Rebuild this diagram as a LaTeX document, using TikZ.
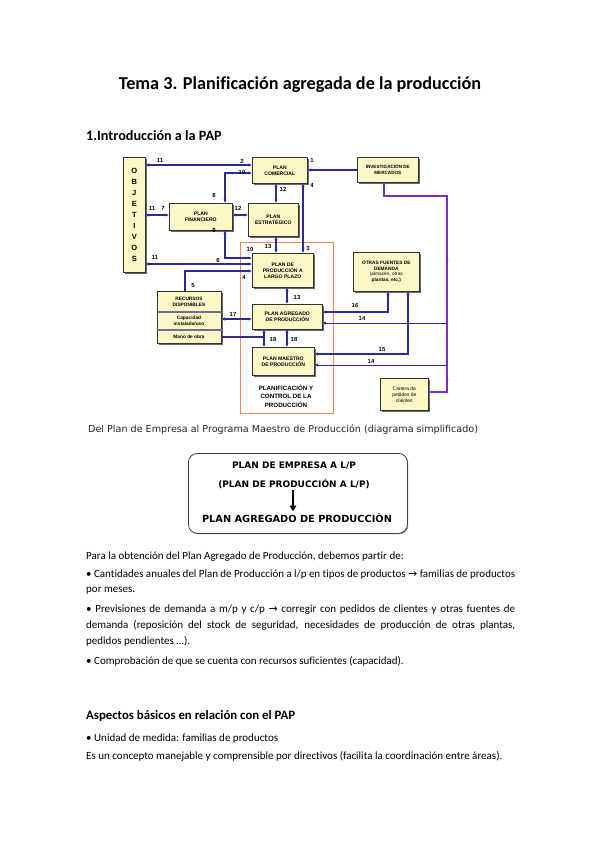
\documentclass[tikz,border=0pt]{standalone}
\usepackage{fontspec}
\setmainfont{Carlito}[Ligatures=CommonOff]
\newfontfamily\arialf{Liberation Sans}
\newfontfamily\tahomaf{DejaVu Sans}
\usetikzlibrary{arrows.meta,shadows}
\definecolor{navy}{HTML}{2A2A9C}
\definecolor{purpc}{HTML}{7B2FC0}
\definecolor{boxfill}{HTML}{FBF7C6}
\definecolor{orng}{HTML}{F0884E}
\definecolor{rowc}{HTML}{6E6E90}
\newcommand\rarr{{\tahomaf →}}
\tikzset{
  box/.style={draw=black!80, fill=boxfill, line width=0.6pt, inner sep=0pt, anchor=north west, align=center,
    font=\arialf\bfseries\fontsize{5.1}{6}\selectfont,
    drop shadow={shadow xshift=1.2pt, shadow yshift=-1.2pt, fill=black!60, opacity=1}},
  arr/.style={draw=navy, line width=1.3pt},
  thinarr/.style={draw=navy, line width=1pt},
  purp/.style={draw=purpc, line width=1.4pt},
  lbl/.style={font=\arialf\bfseries\fontsize{5.9}{6}\selectfont, inner sep=0pt},
  rowline/.style={draw=rowc, line width=1.2pt},
  body/.style={anchor=base west, inner sep=0pt, font=\fontsize{11}{13}\selectfont},
  etext/.style={anchor=base, inner sep=0pt, font=\tahomaf\bfseries\fontsize{9}{10}\selectfont}
}
\begin{document}
\begin{tikzpicture}[x=1pt,y=-1pt,>={Latex[length=3.4pt,width=3.4pt]}]
\useasboundingbox (0,0) rectangle (599,848);
\fill[white] (0,0) rectangle (599,848);

% headings
\node[anchor=base, inner sep=0pt, font=\bfseries\fontsize{18.2}{20}\selectfont] (title) at (300,89.5) {Tema 3. Planificación agregada de la producción};
\node[anchor=base west, inner sep=0pt, font=\bfseries\fontsize{14.2}{16}\selectfont] (sec1) at (86,140) {1.Introducción a la PAP};

% orange frame
\node[draw=orng, line width=1.1pt, minimum width=93pt, minimum height=171pt, anchor=north west, inner sep=0pt] (pcp) at (240,242) {};
\node[align=center, inner sep=0pt, font=\arialf\bfseries\fontsize{6.2}{8.3}\selectfont] (pcpt) at (286,396) {PLANIFICACIÓN Y\\CONTROL DE LA\\PRODUCCIÓN};

% boxes
\node[box, minimum width=22pt, minimum height=115pt, font=\arialf\bfseries\fontsize{7.5}{11}\selectfont] (obj) at (123,157) {O\\B\\J\\E\\T\\I\\V\\O\\S};
\node[box, minimum width=55pt, minimum height=26pt] (pc) at (252,157) {PLAN\\COMERCIAL};
\node[box, minimum width=61pt, minimum height=25pt, font=\arialf\bfseries\fontsize{4.6}{5.8}\selectfont] (im) at (357,157) {INVESTIGACIÓN DE\\MERCADOS};
\node[box, minimum width=63pt, minimum height=27pt] (pf) at (169,203) {PLAN\\FINANCIERO};
\node[box, minimum width=50pt, minimum height=33pt] (pe) at (248,203) {PLAN\\ESTRATEGICO};
\node[box, minimum width=61pt, minimum height=34pt] (plp) at (252,253) {PLAN DE\\PRODUCCIÓN A\\LARGO PLAZO};
\node[box, minimum width=70pt, minimum height=25pt] (pap) at (252,304) {PLAN AGREGADO\\DE PRODUCCIÓN};
\node[box, minimum width=62pt, minimum height=28pt] (pmp) at (252,347) {PLAN MAESTRO\\DE PRODUCCIÓN};
\node[box, minimum width=64pt, minimum height=52pt] (rd) at (157,291) {};
\draw[rowline] (rd.west |- 0,312) -- (rd.east |- 0,312);
\draw[rowline] (rd.west |- 0,330) -- (rd.east |- 0,330);
\node[align=center, inner sep=0pt, font=\arialf\bfseries\fontsize{4.8}{5.8}\selectfont] (rd1) at (189,301.5) {RECURSOS\\DISPONIBLES};
\node[align=center, inner sep=0pt, font=\arialf\bfseries\fontsize{4.8}{5.8}\selectfont] (rd2) at (189,321) {Capacidad\\instalada/uso};
\node[align=center, inner sep=0pt, font=\arialf\bfseries\fontsize{4.8}{5.8}\selectfont] (rd3) at (189,336.5) {Mano de obra};
\node[box, minimum width=66pt, minimum height=39pt, font=\arialf\bfseries\fontsize{4.8}{5.8}\selectfont] (ofd) at (353,252) {OTRAS FUENTES DE\\DEMANDA\\\mdseries(almacén, otras\\plantas, etc.)};
\node[box, minimum width=48pt, minimum height=32pt, font=\arialf\fontsize{4.9}{6}\selectfont] (cp) at (380,378) {Cartera de\\pedidos de\\clientes};

% purple flow
\coordinate (pu1) at (447,196);
\coordinate (pu2) at (447,392);
\coordinate (pm1) at (447,263);
\coordinate (pm2) at (447,376);
\draw[purp] (im.south -| 384,0) |- (pu1) -- (pu2) -- (cp.east |- pu2);
\draw[purp,->] (pu1) -- (pm1);
\draw[purp,->] (pu2) -- (pm2);

% connectors
\draw[arr,->] (im.west |- 0,170) -- (pc.east |- 0,170);
\draw[arr,<->] (obj.east |- 0,165) -- (pc.west |- 0,165);
\coordinate (c10) at (225,173);
\draw[arr,<->] (pc.west |- c10) -- (c10) -- (pf.north -| c10);
\draw[arr,<->] (pc.south -| 276,0) -- (pe.north -| 276,0);
\draw[arr,<->] (pc.south -| 303,0) -- (plp.north -| 303,0);
\draw[arr,<->] (obj.east |- 0,215) -- (pf.west |- 0,215);
\draw[arr,<->] (pf.east |- 0,215) -- (pe.west |- 0,215);
\coordinate (c9) at (225,258);
\draw[arr,<->] (pf.south -| c9) -- (c9) -- (plp.west |- c9);
\draw[arr,<->] (obj.east |- 0,264) -- (plp.west |- 0,264);
\coordinate (c5) at (185,271);
\draw[arr,->] (rd.north -| c5) -- (c5) -- (plp.west |- c5);
\draw[arr,<->] (pe.south -| 276,0) -- (plp.north -| 276,0);
\draw[arr,<->] (plp.south -| 287,0) -- (pap.north -| 287,0);
\draw[arr,<->] (rd.east |- 0,319) -- (pap.west |- 0,319);
\coordinate (c18) at (264,337);
\draw[arr] (rd.east |- c18) -- (c18);
\draw[arr,<->] (pap.south -| c18) -- (pmp.north -| c18);
\draw[arr,<->] (pap.south -| 287,0) -- (pmp.north -| 287,0);
\coordinate (c16) at (388,312);
\draw[arr,<->] (pap.east |- c16) -- (c16) -- (ofd.south -| c16);
\coordinate (c14a) at (447,323);
\draw[thinarr,->] (c14a) -- (pap.east |- c14a);
\coordinate (c15) at (408,354);
\draw[arr,<->] (pmp.east |- c15) -- (c15) -- (ofd.south -| c15);
\coordinate (c14b) at (447,365);
\draw[thinarr,->] (c14b) -- (pmp.east |- c14b);

% labels
\node[lbl] (l1) at (312,160) {1};
\node[lbl] (l11a) at (160,160) {11};
\node[lbl] (l2) at (242,161) {2};
\node[lbl] (l10a) at (242,172) {10};
\node[lbl] (l8) at (214,195) {8};
\node[lbl] (l12a) at (283,189) {12};
\node[lbl] (l4a) at (312,185) {4};
\node[lbl] (l3) at (308,248) {3};
\node[lbl] (l11b) at (152,208) {11};
\node[lbl] (l7) at (163,208) {7};
\node[lbl] (l12b) at (238,208) {12};
\node[lbl] (l9) at (214,230) {9};
\node[lbl] (l10b) at (250,249) {10};
\node[lbl] (l11c) at (155,257) {11};
\node[lbl] (l6) at (218,260) {6};
\node[lbl] (l5) at (193,285) {5};
\node[lbl] (l4b) at (244,277) {4};
\node[lbl] (l13a) at (268,246) {13};
\node[lbl] (l13b) at (297,297) {13};
\node[lbl] (l17) at (233,314) {17};
\node[lbl] (l18a) at (273,339) {18};
\node[lbl] (l18b) at (294,339) {18};
\node[lbl] (l16) at (355,305) {16};
\node[lbl] (l14a) at (362,318) {14};
\node[lbl] (l15) at (382,349) {15};
\node[lbl] (l14b) at (371,361) {14};

% caption and simplified diagram
\node[anchor=base west, inner sep=0pt, text=black!85, font=\tahomaf\fontsize{9.6}{11}\selectfont] (cap) at (88,432) {Del Plan de Empresa al Programa Maestro de Producción (diagrama simplificado)};
\node[draw=black!75, line width=0.8pt, rounded corners=9pt, minimum width=219pt, minimum height=80pt, anchor=north west, inner sep=0pt,
  drop shadow={shadow xshift=0.8pt, shadow yshift=-0.8pt, fill=black!45, opacity=1}, fill=white] (emp) at (188,453) {};
\node[etext] (e1) at (294,468.5) {PLAN DE EMPRESA A L/P};
\node[etext] (e2) at (294,487.5) {(PLAN DE PRODUCCIÓN A L/P)};
\node[etext, font=\tahomaf\bfseries\fontsize{9.8}{11}\selectfont] (e3) at (297,522.5) {PLAN AGREGADO DE PRODUCCIÒN};
\draw[line width=1.8pt, -{Triangle[length=5.5pt,width=6.5pt]}, shorten <=1pt, shorten >=2pt] (e2.south -| 293,0) -- (e3.north -| 293,0);

% body text
\node[body] (p1) at (86,559) {Para la obtención del Plan Agregado de Producción, debemos partir de:};
\node[body] (p2) at (86,577) {\makebox[429pt][s]{• Cantidades anuales del Plan de Producción a l/p en tipos de productos \rarr{} familias de productos}};
\node[body] (p3) at (86,592) {por meses.};
\node[body] (p4) at (86,612) {\makebox[429pt][s]{• Previsiones de demanda a m/p y c/p \rarr{} corregir con pedidos de clientes y otras fuentes de}};
\node[body] (p5) at (86,628) {\makebox[429pt][s]{demanda (reposición del stock de seguridad, necesidades de producción de otras plantas,}};
\node[body] (p6) at (86,644) {pedidos pendientes …).};
\node[body] (p7) at (86,664) {• Comprobación de que se cuenta con recursos suficientes (capacidad).};
\node[anchor=base west, inner sep=0pt, font=\bfseries\fontsize{12.8}{14}\selectfont] (sec2) at (86,719.5) {Aspectos básicos en relación con el PAP};
\node[body] (p8) at (86,741) {• Unidad de medida: familias de productos};
\node[body] (p9) at (86,759) {Es un concepto manejable y comprensible por directivos (facilita la coordinación entre áreas).};
\end{tikzpicture}
\end{document}
